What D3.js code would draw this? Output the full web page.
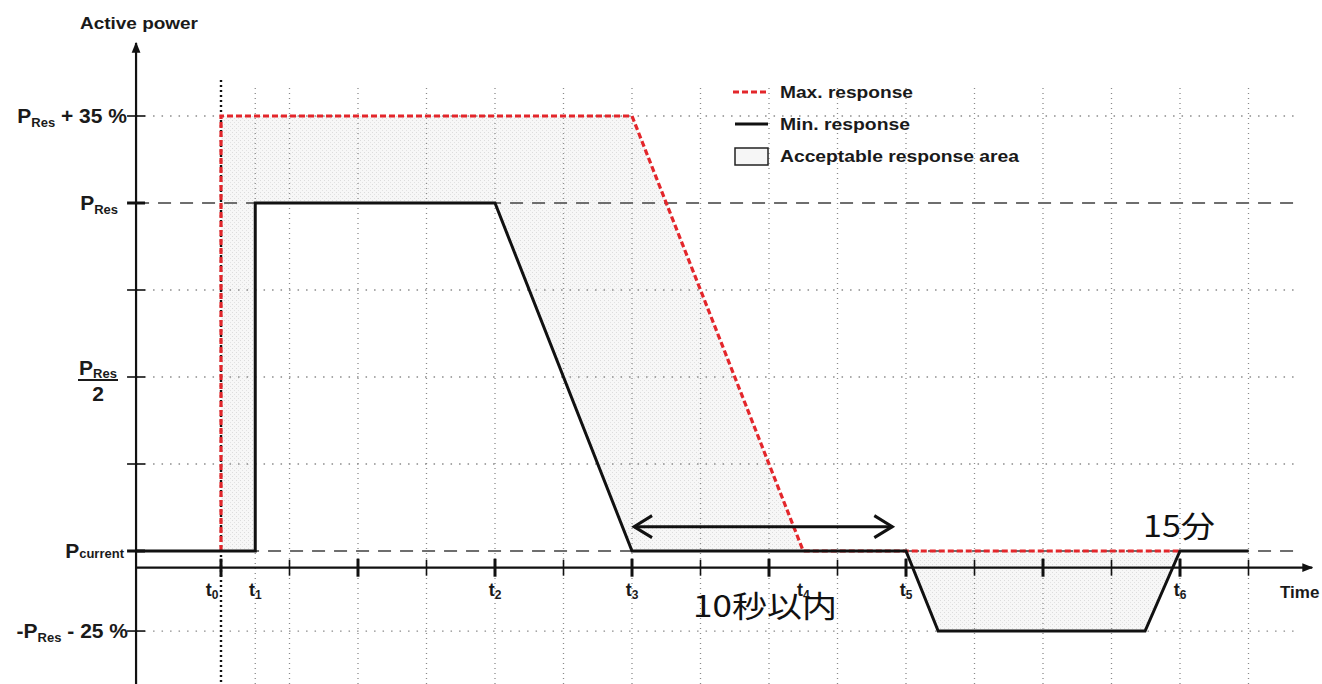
<!DOCTYPE html>
<html><head><meta charset="utf-8">
<script src="https://cdn.jsdelivr.net/npm/d3@7"></script>
<style>
html,body{margin:0;padding:0;background:#fff;}
svg{display:block;}
.lbl{font-family:"Liberation Sans",Arial,sans-serif;font-weight:bold;fill:#1a1a1a;}
.jp{font-family:"Noto Sans CJK JP",sans-serif;fill:#111;}
</style></head>
<body>
<svg id="c" width="1322" height="684"></svg>
<script>
// ---- data ----
const timeKeys = ["0","1","2","3","4","5","6"];
const timeVals = [0, 0.5, 4, 6, 8.5, 10, 14];
const majorTicks = [0, 2, 4, 6, 8, 10, 12, 14];
const minorTicks = [1, 3, 5, 7, 9, 11, 13, 15];
const gridLevels = [125, 75, 50, 25, -23];
const refLevels = [100, 0];
const tickLevels = [125, 100, 75, 50, 25, 0, -23];
const maxX = [0, 0, 6, 8.5, 14];
const maxY = [0, 125, 125, 0, 0];
const minX = [-1.24, 0.5, 0.5, 4, 6, 10, 10.47, 13.49, 14, 15];
const minY = [0, 0, 100, 100, 0, 0, -23, -23, 0, 0];
const areaUpperX = [0, 0, 6, 8.5, 6, 4, 0.5, 0.5];
const areaUpperY = [0, 125, 125, 0, 0, 100, 100, 0];
const areaLowerX = [10, 10.47, 13.49, 14];
const areaLowerY = [0, -23, -23, 0];
const spanArrowX = [6.03, 9.8];
const spanArrowY = 7;
const legendLabels = ["Max. response", "Min. response", "Acceptable response area"];

// ---- scales ----
const svg = d3.select("#c");
const x = d3.scaleLinear().domain([0, 14]).range([221, 1180]);
const y = d3.scaleLinear().domain([0, 100]).range([551, 203]);
const x0 = x(-1.24), xEnd = x(15.93), gridEnd = x(15.75);
const yAxisY = y(-4.8), yTop = y(146), yBottom = 684;

const defs = svg.append("defs");
const pat = defs.append("pattern").attr("id","dots").attr("width",4).attr("height",4).attr("patternUnits","userSpaceOnUse");
pat.append("rect").attr("width",4).attr("height",4).attr("fill","#f7f7f7");
pat.append("rect").attr("x",0).attr("y",0).attr("width",1).attr("height",1).attr("fill","#dcdcdc");
pat.append("rect").attr("x",2).attr("y",2).attr("width",1).attr("height",1).attr("fill","#e2e2e2");
defs.append("marker").attr("id","ah").attr("viewBox","0 0 10 10").attr("refX",9).attr("refY",5)
  .attr("markerWidth",5).attr("markerHeight",5).attr("orient","auto-start-reverse").attr("markerUnits","strokeWidth")
  .append("path").attr("d","M0,1 L10,5 L0,9 Z").attr("fill","#111");

// acceptable area
const poly = (xs, ys) => xs.map((v,i)=>[x(v), y(ys[i])]);
svg.append("path").attr("d", d3.line()(poly(areaUpperX, areaUpperY)) + "Z").attr("fill","url(#dots)");
svg.append("path").attr("d", d3.line()(poly(areaLowerX, areaLowerY)) + "Z").attr("fill","url(#dots)");

// vertical grid
const vg = [timeVals[1]].concat(majorTicks.slice(1), minorTicks);
svg.selectAll(".vg").data(vg).enter().append("line")
  .attr("x1", d=>x(d)).attr("x2", d=>x(d)).attr("y1", 88).attr("y2", yBottom)
  .attr("stroke","#8a8a8a").attr("stroke-width",1.3).attr("stroke-dasharray","1,4");
// horizontal dotted grid
svg.selectAll(".hg").data(gridLevels).enter().append("line")
  .attr("x1", x0).attr("x2", gridEnd).attr("y1", d=>y(d)).attr("y2", d=>y(d))
  .attr("stroke","#8a8a8a").attr("stroke-width",1.3).attr("stroke-dasharray","1.5,7");
// reference dashed lines
svg.selectAll(".rl").data(refLevels).enter().append("line")
  .attr("x1", x0).attr("x2", gridEnd).attr("y1", d=>y(d)).attr("y2", d=>y(d))
  .attr("stroke","#6e6e6e").attr("stroke-width",2).attr("stroke-dasharray","13,9");
// t0 dotted line
svg.append("line").attr("x1", x(0)).attr("x2", x(0)).attr("y1", 80).attr("y2", yBottom)
  .attr("stroke","#111").attr("stroke-width",2.4).attr("stroke-dasharray","2,3");

// axes
svg.append("line").attr("x1", x0).attr("x2", x0).attr("y1", yBottom).attr("y2", yTop)
  .attr("stroke","#111").attr("stroke-width",2.2).attr("marker-end","url(#ah)");
svg.append("line").attr("x1", x0).attr("x2", xEnd).attr("y1", yAxisY).attr("y2", yAxisY)
  .attr("stroke","#111").attr("stroke-width",2.2).attr("marker-end","url(#ah)");
svg.selectAll(".mt").data(majorTicks).enter().append("line")
  .attr("x1", d=>x(d)).attr("x2", d=>x(d)).attr("y1", yAxisY-9).attr("y2", yAxisY+9)
  .attr("stroke","#111").attr("stroke-width",3);
svg.selectAll(".nt").data(minorTicks).enter().append("line")
  .attr("x1", d=>x(d)).attr("x2", d=>x(d)).attr("y1", yAxisY-8).attr("y2", yAxisY+8)
  .attr("stroke","#111").attr("stroke-width",1.6);
svg.selectAll(".yt").data(tickLevels).enter().append("line")
  .attr("x1", x0-9).attr("x2", x0+9).attr("y1", d=>y(d)).attr("y2", d=>y(d))
  .attr("stroke","#111").attr("stroke-width", d => (d===100||d===0) ? 3 : 1.6);

// max response (red dashed)
svg.append("path").attr("d", d3.line()(poly(maxX, maxY))).attr("fill","none")
  .attr("stroke","#e3262b").attr("stroke-width",3.2).attr("stroke-dasharray","6,3");
// min response (black)
svg.append("path").attr("d", d3.line()(poly(minX, minY))).attr("fill","none")
  .attr("stroke","#111").attr("stroke-width",3).attr("stroke-linejoin","miter");

// time labels
const tl = svg.selectAll(".tl").data(timeKeys).enter().append("text").attr("class","lbl")
  .attr("x",(d,i)=>x(timeVals[i]) + (i===0 ? -9 : 0)).attr("y",596).attr("text-anchor","middle").attr("font-size",18);
tl.append("tspan").text("t");
tl.append("tspan").attr("font-size",12).attr("dy",3).text(d=>d);
svg.append("text").attr("class","lbl").attr("x",1280).attr("y",598).attr("font-size",17).text("Time");
svg.append("text").attr("class","lbl").attr("x",80).attr("y",29).attr("font-size",16).attr("textLength",118).attr("lengthAdjust","spacingAndGlyphs").text("Active power");

// y labels
function pl(yv, xEndPos, main, sub, rest, subDy){
  const t = svg.append("text").attr("class","lbl").attr("x", xEndPos).attr("y", y(yv)+7).attr("text-anchor","end").attr("font-size",21);
  t.append("tspan").text(main);
  t.append("tspan").attr("font-size",13).attr("dy",subDy).text(sub);
  if (rest) t.append("tspan").attr("dy",-subDy).text(rest);
  return t;
}
pl(125, 127, "P", "Res", " + 35 %", 4);
pl(100, 118, "P", "Res", null, 4);
pl(0, 124, "P", "current", null, 0);
pl(-23, 128, "-P", "Res", " - 25 %", 4);
// fraction
const fr = svg.append("text").attr("class","lbl").attr("x",98).attr("y",y(50)-2).attr("text-anchor","middle").attr("font-size",21);
fr.append("tspan").text("P");
fr.append("tspan").attr("font-size",13).attr("dy",3).text("Res");
svg.append("line").attr("x1",78).attr("x2",118).attr("y1",y(50)+3).attr("y2",y(50)+3).attr("stroke","#1a1a1a").attr("stroke-width",2);
svg.append("text").attr("class","lbl").attr("x",98).attr("y",y(50)+24).attr("text-anchor","middle").attr("font-size",21).text("2");

// legend
const lg = svg.append("g");
lg.append("line").attr("x1",733).attr("x2",768).attr("y1",92).attr("y2",92).attr("stroke","#e3262b").attr("stroke-width",3.2).attr("stroke-dasharray","6,3");
lg.append("line").attr("x1",735).attr("x2",768).attr("y1",124).attr("y2",124).attr("stroke","#111").attr("stroke-width",3);
lg.append("rect").attr("x",735).attr("y",148).attr("width",33).attr("height",17).attr("fill","#f6f6f6").attr("stroke","#222").attr("stroke-width",1.5);
const lw = [133, 130, 239];
lg.selectAll(".lt").data(legendLabels).enter().append("text").attr("class","lbl")
  .attr("x",780).attr("y",(d,i)=>98 + i*32).attr("font-size",16)
  .attr("textLength",(d,i)=>lw[i]).attr("lengthAdjust","spacingAndGlyphs").text(d=>d);

// span arrow
svg.append("line").attr("x1", x(spanArrowX[0])).attr("x2", x(spanArrowX[1])).attr("y1", y(spanArrowY)).attr("y2", y(spanArrowY))
  .attr("stroke","#111").attr("stroke-width",3);
[[spanArrowX[0],1],[spanArrowX[1],-1]].forEach(([v,dir])=>{
  const px = x(v), py = y(spanArrowY);
  svg.append("path").attr("d",`M${px+dir*18},${py-11} L${px},${py} L${px+dir*18},${py+11}`)
    .attr("fill","none").attr("stroke","#111").attr("stroke-width",3);
});
svg.append("text").attr("class","jp").attr("x",693).attr("y",617).attr("font-size",30)
  .attr("textLength",144).attr("lengthAdjust","spacingAndGlyphs").text("10秒以内");
svg.append("text").attr("class","jp").attr("x",1143).attr("y",537).attr("font-size",30)
  .attr("textLength",72).attr("lengthAdjust","spacingAndGlyphs").text("15分");
</script>
</body></html>
